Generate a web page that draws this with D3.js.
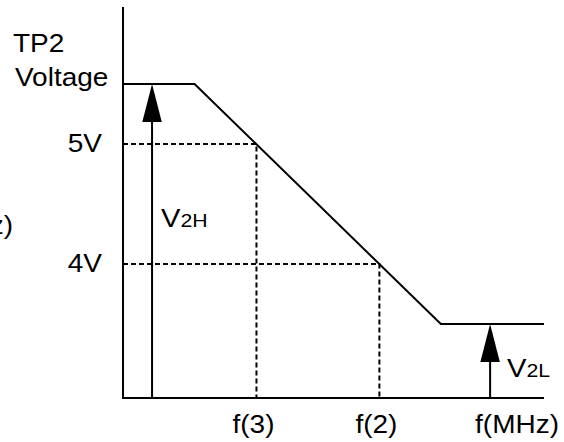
<!DOCTYPE html>
<html>
<head>
<meta charset="utf-8">
<script src="https://cdn.jsdelivr.net/npm/d3@7"></script>
<style>
  body { margin: 0; background: #fff; }
  svg { display: block; }
  text { font-family: "Liberation Sans", Arial, sans-serif; fill: #000; }
</style>
</head>
<body>
<div id="chart"></div>
<script>
// response curve: TP2 voltage vs frequency (arbitrary freq units)
var freq = [0, 1.7, 7.55, 10];
var volt = [5.5, 5.5, 3.5, 3.5];

// reference levels and where the curve crosses them
var levels = [5, 4];
var levelLabels = ["5V", "4V"];
var crossFreq = [3.17, 6.09];
var crossLabels = ["f(3)", "f(2)"];

// arrows marking the high / low levels
var arrowFreq = [0.69, 8.72];
var arrowVolt = [5.5, 3.5];
var arrowSub = ["2H", "2L"];

var svgWidth = 564;
var svgHeight = 442;
var stretch = 1.12; // glyphs in the original are a bit wide

var svg = d3.select("#chart")
  .append("svg")
  .attr("width", svgWidth)
  .attr("height", svgHeight);

var x = d3.scaleLinear()
  .domain([0, 10])
  .range([123, 544]);

var y = d3.scaleLinear()
  .domain([2.883, 6.142])
  .range([398, 7]);

function label(px, py, anchor, size) {
  return svg.append("text")
    .attr("transform", "translate(" + px + "," + py + ") scale(" + stretch + ",1)")
    .attr("text-anchor", anchor)
    .attr("font-size", size + "px");
}

// axes (plain lines, no ticks)
svg.append("line")
  .attr("x1", x(0)).attr("x2", x(0))
  .attr("y1", y.range()[0] + 1).attr("y2", y.range()[1])
  .attr("stroke", "#000").attr("stroke-width", 2);

svg.append("line")
  .attr("x1", x(0)).attr("x2", x(10))
  .attr("y1", y.range()[0]).attr("y2", y.range()[0])
  .attr("stroke", "#000").attr("stroke-width", 2);

// dashed guide lines
levels.forEach(function(v, i) {
  var fx = x(crossFreq[i]);
  svg.append("path")
    .attr("d", "M" + x(0) + "," + y(v) + "H" + fx + "V" + y.range()[0])
    .attr("fill", "none")
    .attr("stroke", "#000")
    .attr("stroke-width", 2)
    .attr("stroke-dasharray", "5,3");

  label(102, y(v) + 8, "end", 25).text(levelLabels[i]);
  label(fx - 3, 433, "middle", 25).text(crossLabels[i]);
});

// the curve
var line = d3.line()
  .x(function(d, i) { return x(freq[i]); })
  .y(function(d) { return y(d); });

svg.append("path")
  .datum(volt)
  .attr("d", line)
  .attr("fill", "none")
  .attr("stroke", "#000")
  .attr("stroke-width", 2);

// arrows
var headLen = 38, headW = 19.5;
arrowFreq.forEach(function(f, i) {
  var ax = x(f), tip = y(arrowVolt[i]);
  svg.append("line")
    .attr("x1", ax).attr("x2", ax)
    .attr("y1", y.range()[0]).attr("y2", tip + headLen - 1)
    .attr("stroke", "#000").attr("stroke-width", 2);
  svg.append("path")
    .attr("d", "M" + ax + "," + tip + "L" + (ax - headW / 2) + "," + (tip + headLen) +
      "L" + (ax + headW / 2) + "," + (tip + headLen) + "Z")
    .attr("fill", "#000");

  var lab = label(ax + (i === 0 ? 9 : 17), i === 0 ? 227 : 377, "start", 26);
  lab.append("tspan").text("V");
  lab.append("tspan").attr("font-size", "19px").text(arrowSub[i]);
});

// axis titles
label(13, 52, "start", 25).text("TP2");
label(15, 86, "start", 25).text("Voltage");
label(517, 433, "middle", 25).text("f(MHz)");

// clipped copy of the frequency label at the left edge
label(13, 234, "end", 25).text("f(MHz)");
</script>
</body>
</html>
